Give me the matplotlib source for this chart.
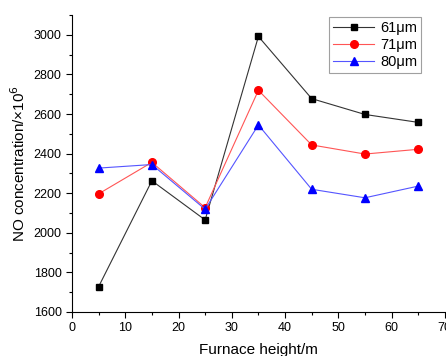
import matplotlib
matplotlib.use("Agg")
import matplotlib.pyplot as plt
from matplotlib.ticker import MultipleLocator

plt.rcParams['font.family'] = ['Liberation Sans', 'DejaVu Sans']

heights = [5, 15, 25, 35, 45, 55, 65]
no_61 = [1728, 2263, 2065, 2992, 2678, 2598, 2558]
no_71 = [2197, 2356, 2127, 2720, 2444, 2398, 2422]
no_80 = [2327, 2345, 2119, 2545, 2220, 2177, 2236]
labels = ['61μm', '71μm', '80μm']

fig = plt.figure(figsize=(4.46, 3.56), dpi=100)
ax = fig.add_axes([0.1614, 0.1236, 0.836, 0.834])

ax.plot(heights, no_61, color='#333333', lw=0.8, marker='s', ms=5, mfc='black', mec='black', label=labels[0])
ax.plot(heights, no_71, color='#ff5555', lw=0.8, marker='o', ms=5.5, mfc='red', mec='red', label=labels[1])
ax.plot(heights, no_80, color='#5555ff', lw=0.8, marker='^', ms=6, mfc='blue', mec='blue', label=labels[2])

ax.set_xlim(0, 70)
ax.set_ylim(1600, 3100)
ax.xaxis.set_major_locator(MultipleLocator(10))
ax.xaxis.set_minor_locator(MultipleLocator(5))
ax.yaxis.set_major_locator(MultipleLocator(200))
ax.yaxis.set_minor_locator(MultipleLocator(100))
ax.spines['top'].set_visible(False)
ax.spines['right'].set_visible(False)
ax.tick_params(which='major', direction='out', length=4, width=0.8, labelsize=9)
ax.tick_params(which='minor', direction='out', length=2.5, width=0.8)

ax.set_xlabel('Furnace height/m', fontsize=11, labelpad=6)
ax.set_ylabel('NO concentration/×10$^6$', fontsize=11, labelpad=4)

leg = ax.legend(loc='upper right', bbox_to_anchor=(0.945, 1.005), fontsize=10.5, frameon=True,
                fancybox=False, edgecolor='#888888', handlelength=2.8, borderpad=0.3,
                labelspacing=0.2, handletextpad=0.4, borderaxespad=0.2)
leg.get_frame().set_linewidth(0.8)

fig.savefig('out.png', dpi=100)
